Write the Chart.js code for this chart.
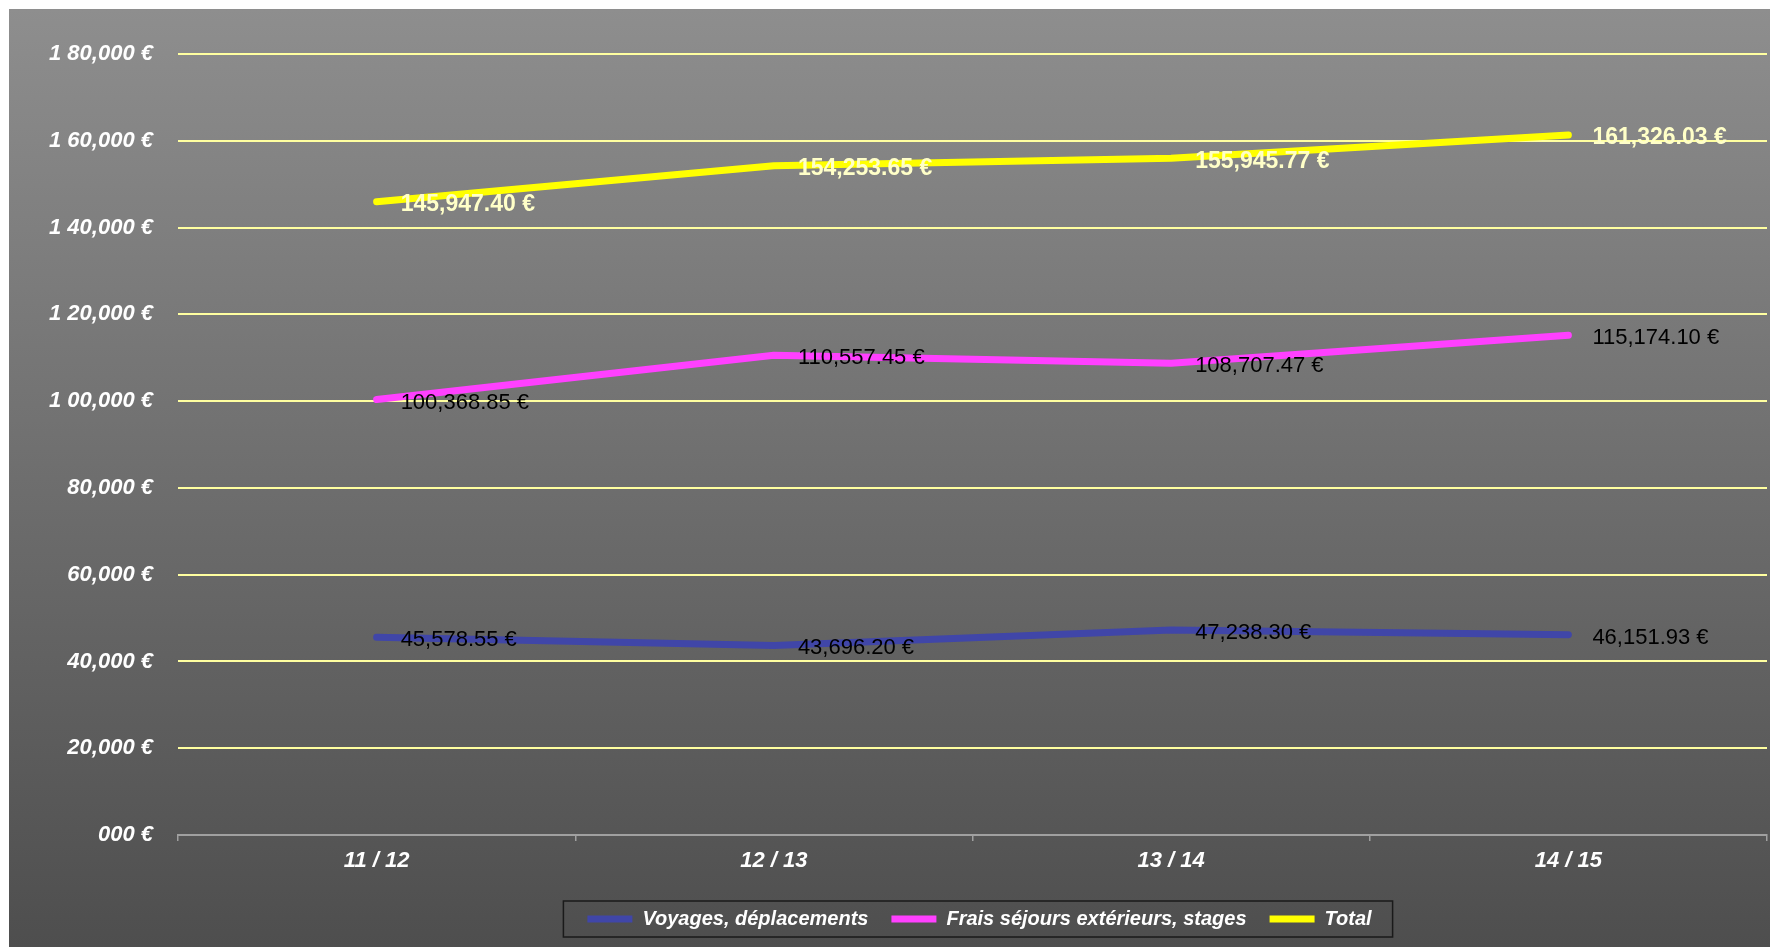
<!DOCTYPE html>
<html>
<head>
<meta charset="utf-8">
<script src="https://cdn.jsdelivr.net/npm/chart.js@4"></script>
<style>
  html, body { margin: 0; padding: 0; background: #fff; }
  #wrap {
    position: absolute; left: 9px; top: 9px;
    width: 1761px; height: 938px;
    background: linear-gradient(to bottom, #8e8e8e, #4e4e4e);
  }
</style>
</head>
<body>
<div id="wrap"><canvas id="fraisChart"></canvas></div>
<script>
const years = ['11 / 12', '12 / 13', '13 / 14', '14 / 15']
const voyages = [45578.55, 43696.20, 47238.30, 46151.93]
const sejours = [100368.85, 110557.45, 108707.47, 115174.10]
const total = [145947.40, 154253.65, 155945.77, 161326.03]
const yTickLabels = ['000 €', '20,000 €', '40,000 €', '60,000 €', '80,000 €',
    '1 00,000 €', '1 20,000 €', '1 40,000 €', '1 60,000 €', '1 80,000 €']

const euro = v => v.toLocaleString('en-US', { minimumFractionDigits: 2, maximumFractionDigits: 2 }) + ' €'

// etiquettes de valeurs a droite de chaque point
const valueLabels = {
    id: 'valueLabels',
    afterDatasetsDraw(chart) {
        const ctx = chart.ctx
        chart.data.datasets.forEach((ds, i) => {
            const meta = chart.getDatasetMeta(i)
            ctx.save()
            ctx.font = (ds.labelBold ? 'bold 23px' : '22px') + ' "Liberation Sans", Arial, sans-serif'
            ctx.fillStyle = ds.labelColor
            ctx.textAlign = 'left'
            ctx.textBaseline = 'middle'
            meta.data.forEach((pt, j) => {
                ctx.fillText(euro(ds.data[j]), pt.x + 24, pt.y + 3)
            })
            ctx.restore()
        })
    }
}

// legende centree sous la zone du graphique, avec un cadre
const legendBox = {
    id: 'legendBox',
    afterLayout(chart) {
        const lg = chart.legend
        const mid = (chart.chartArea.left + chart.chartArea.right) / 2 + 7
        const shift = mid - (lg.left + lg.right) / 2
        lg.left += shift
        lg.right += shift
    },
    afterDraw(chart) {
        const lg = chart.legend
        const pad = lg.options.labels.padding
        const rowW = lg.lineWidths[0]
        const x0 = (lg.left + pad + lg.right - rowW) / 2
        const cy = lg.top + pad + 10
        const ctx = chart.ctx
        ctx.save()
        ctx.strokeStyle = '#1a1a1a'
        ctx.lineWidth = 1.5
        ctx.strokeRect(x0 - 24, cy - 18, rowW - pad + 45, 36)
        ctx.restore()
    }
}

const data = {
    labels: years,
    datasets: [
        {
            label: 'Voyages, déplacements',
            data: voyages,
            borderColor: '#4046a8',
            backgroundColor: '#4046a8',
            labelColor: '#000',
            labelBold: false
        },
        {
            label: 'Frais séjours extérieurs, stages',
            data: sejours,
            borderColor: '#ff40ff',
            backgroundColor: '#ff40ff',
            labelColor: '#000',
            labelBold: false
        },
        {
            label: 'Total',
            data: total,
            borderColor: '#ffff00',
            backgroundColor: '#ffff00',
            labelColor: '#ffffc8',
            labelBold: true
        }
    ]
}

data.datasets.forEach(ds => {
    ds.borderWidth = 7
    ds.borderCapStyle = 'round'
    ds.borderJoinStyle = 'round'
    ds.pointRadius = 0
    ds.pointHoverRadius = 0
    ds.tension = 0
    ds.pointStyle = 'line'
})

const axisFont = { family: '"Liberation Sans", Arial, sans-serif', size: 22, weight: 'bold', style: 'italic' }
const legendFont = { family: '"Liberation Sans", Arial, sans-serif', size: 20, weight: 'bold', style: 'italic' }

const options = {
    responsive: true,
    maintainAspectRatio: false,
    animation: false,
    layout: { padding: { top: 45, right: 3, bottom: 8, left: 0 } },
    plugins: {
        tooltip: { enabled: false },
        legend: {
            position: 'bottom',
            labels: {
                usePointStyle: true,
                pointStyleWidth: 45,
                padding: 23,
                color: '#fff',
                font: legendFont
            }
        }
    },
    scales: {
        x: {
            offset: true,
            grid: {
                offset: true,
                drawOnChartArea: false,
                drawTicks: true,
                tickLength: 6,
                color: '#a0a0a0',
                lineWidth: 1.5
            },
            border: { display: true, color: '#a0a0a0', width: 2 },
            ticks: { color: '#fff', font: axisFont, padding: 7 },
            afterFit: scale => { scale.height = 51 }
        },
        y: {
            min: 0,
            max: 180000,
            grid: {
                drawTicks: false,
                color: ctx => ctx.tick && ctx.tick.value === 0 ? 'rgba(0,0,0,0)' : '#ffffa0',
                lineWidth: 2
            },
            border: { display: false },
            ticks: {
                stepSize: 20000,
                color: '#fff',
                font: axisFont,
                padding: 25,
                callback: (v, i) => yTickLabels[i]
            },
            afterFit: scale => { scale.width = 169 }
        }
    }
}

new Chart('fraisChart', { type: 'line', data, options, plugins: [valueLabels, legendBox] })
</script>
</body>
</html>
